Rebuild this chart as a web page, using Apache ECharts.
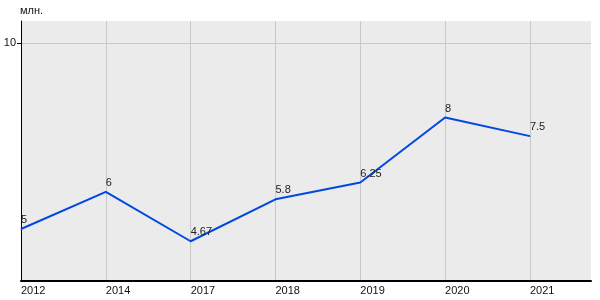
<!DOCTYPE html>
<html>
<head>
<meta charset="utf-8">
<script src="https://cdn.jsdelivr.net/npm/echarts@6/dist/echarts.min.js"></script>
<style>
  html, body { margin: 0; padding: 0; background: #fff; }
  #chart { width: 600px; height: 300px; }
</style>
</head>
<body>
<div id="chart"></div>
<script>
// years on the x axis
const years = ['2012', '2014', '2017', '2018', '2019', '2020', '2021']
// values, млн.
const values = [5, 6, 4.67, 5.8, 6.25, 8, 7.5]
// value labels as printed on the chart
const valueLabels = ['5', '6', '4.67', '5.8', '6.25', '8', '7.5']
const yTicks = [10]

const font = '"Liberation Sans", Arial, sans-serif'

var myChart = echarts.init(document.getElementById('chart'))

var option = {
  animation: false,
  textStyle: { fontFamily: font },
  grid: {
    left: 21,
    right: 9,
    top: 21,
    bottom: 19,
    show: true,
    backgroundColor: '#ebebeb',
    borderWidth: 0
  },
  xAxis: {
    type: 'value',
    min: 0,
    max: 6.72,
    interval: 1,
    axisLine: { show: true, lineStyle: { color: '#000', width: 2 } },
    axisTick: { show: false },
    axisLabel: {
      align: 'left',
      margin: 4,
      fontSize: 11,
      color: '#111',
      fontFamily: font,
      showMaxLabel: false,
      formatter: v => Number.isInteger(v) ? (years[v] || '') : ''
    },
    splitLine: {
      show: true,
      showMaxLine: false,
      lineStyle: { color: '#c8c8c8', width: 1 }
    }
  },
  yAxis: {
    type: 'value',
    min: 3.6,
    max: 10.6,
    name: 'млн.',
    nameLocation: 'end',
    nameGap: 5,
    nameTextStyle: { align: 'left', fontSize: 11, color: '#111', fontFamily: font, padding: [0, 0, 0, -1] },
    axisLine: { show: true, lineStyle: { color: '#000', width: 1 } },
    axisTick: { show: true, length: 4, customValues: yTicks, lineStyle: { color: '#000' } },
    axisLabel: {
      customValues: yTicks,
      margin: 5,
      fontSize: 11,
      color: '#111',
      fontFamily: font
    },
    splitLine: { show: true, lineStyle: { color: '#c8c8c8', width: 1 } }
  },
  series: [
    {
      type: 'line',
      data: values.map((v, i) => [i, v]),
      showSymbol: true,
      symbol: 'circle',
      symbolSize: 1,
      itemStyle: { color: '#0048e0' },
      lineStyle: { color: '#0048e0', width: 2 },
      label: {
        show: true,
        position: 'top',
        align: 'left',
        distance: 3,
        fontSize: 11,
        color: '#222',
        fontFamily: font,
        formatter: p => valueLabels[p.dataIndex]
      }
    }
  ]
}

myChart.setOption(option)
</script>
</body>
</html>
